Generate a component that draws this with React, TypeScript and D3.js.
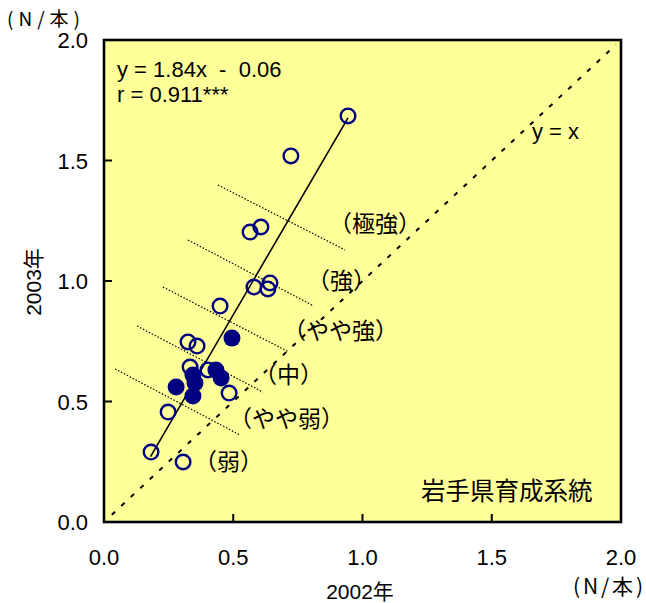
import React from 'react';
import * as d3 from 'd3';

// 2002 vs 2003 (N/本)
const openX = [0.944, 0.723, 0.565, 0.607, 0.449, 0.58, 0.642, 0.634, 0.325, 0.36, 0.333, 0.402, 0.484, 0.248, 0.182, 0.306];
const openY = [1.685, 1.519, 1.203, 1.224, 0.896, 0.975, 0.992, 0.967, 0.747, 0.73, 0.643, 0.631, 0.535, 0.456, 0.29, 0.249];
const filledX = [0.495, 0.433, 0.453, 0.344, 0.352, 0.344, 0.279];
const filledY = [0.763, 0.631, 0.598, 0.61, 0.577, 0.523, 0.56];

const ticks = [0, 0.5, 1.0, 1.5, 2.0];
const regSlope = 1.84;
const regIntercept = -0.06;
const regRange = [0.18, 0.944];

// dotted boundary lines between classes
const boundaryFrom = [[0.441, 1.398], [0.325, 1.17], [0.228, 0.975], [0.128, 0.813], [0.043, 0.635]];
const boundaryTo = [[0.932, 1.129], [0.812, 0.896], [0.716, 0.705], [0.615, 0.539], [0.526, 0.361]];

const classLabels = ['（極強）', '（強）', '（やや強）', '（中）', '（やや弱）', '（弱）'];
const classAt = [[0.87, 1.245], [0.785, 1.008], [0.692, 0.801], [0.58, 0.618], [0.484, 0.436], [0.348, 0.257]];

const W = 646, H = 603;
const latin = 'Liberation Sans, Arial, Noto Sans CJK JP, sans-serif';
const cjk = 'Noto Sans CJK JP, sans-serif';

export default function App() {
  const x = d3.scaleLinear().domain([0, 2]).range([104, 621]);
  const y = d3.scaleLinear().domain([0, 2]).range([522, 40]);
  const fmt = d3.format('.1f');

  const regLine = d3.line<number>()
    .x(d => x(d))
    .y(d => y(regSlope * d + regIntercept));
  const diag = d3.line<number>().x(d => x(d)).y(d => y(d));

  return (
    <svg width={W} height={H} style={{ position: 'absolute', left: 0, top: 0, background: '#fff' }}>
      <rect x={x(0)} y={y(2)} width={x(2) - x(0)} height={y(0) - y(2)} fill="#FFFF99" stroke="none" />

      {boundaryFrom.map((p, i) => (
        <line key={'b' + i} x1={x(p[0])} y1={y(p[1])} x2={x(boundaryTo[i][0])} y2={y(boundaryTo[i][1])}
          stroke="#000" strokeWidth={1.2} strokeDasharray="1.5,1.8" />
      ))}

      <path d={diag([0.03, 1.98]) || ''} stroke="#000" strokeWidth={2} strokeDasharray="4.5,8.5" fill="none" />
      <path d={regLine(regRange) || ''} stroke="#000" strokeWidth={1.6} fill="none" />

      {openX.map((v, i) => (
        <circle key={'o' + i} cx={x(v)} cy={y(openY[i])} r={7.3} fill="none" stroke="#000080" strokeWidth={2.4} />
      ))}
      {filledX.map((v, i) => (
        <circle key={'f' + i} cx={x(v)} cy={y(filledY[i])} r={8.5} fill="#000080" />
      ))}

      {/* frame */}
      <rect x={x(0)} y={y(2)} width={x(2) - x(0)} height={y(0) - y(2)} fill="none" stroke="#000" strokeWidth={2.6} />

      {ticks.map(t => (
        <g key={'t' + t}>
          <line x1={x(0)} x2={x(0) + 8} y1={y(t)} y2={y(t)} stroke="#000" strokeWidth={2} />
          <line x1={x(t)} x2={x(t)} y1={y(0)} y2={y(0) - 8} stroke="#000" strokeWidth={2} />
          <text x={88} y={y(t) + 8} textAnchor="end" fontFamily={latin} fontSize={22}>{fmt(t)}</text>
          <text x={x(t)} y={565} textAnchor="middle" fontFamily={latin} fontSize={22}>{fmt(t)}</text>
        </g>
      ))}

      <text x={117} y={77} fontFamily={latin} fontSize={22} style={{ whiteSpace: 'pre' }}>{'y = 1.84x  -  0.06'}</text>
      <text x={117} y={102} fontFamily={latin} fontSize={22} style={{ whiteSpace: 'pre' }}>{'r = 0.911***'}</text>
      <text x={532} y={139} fontFamily={latin} fontSize={22} style={{ whiteSpace: 'pre' }}>{'y = x'}</text>

      {classLabels.map((s, i) => (
        <text key={'c' + i} x={x(classAt[i][0])} y={y(classAt[i][1])} dominantBaseline="central"
          fontFamily={cjk} fontSize={23}>{s}</text>
      ))}

      <text x={421} y={489} dominantBaseline="central" fontFamily={cjk} fontSize={24.5}>岩手県育成系統</text>

      <text x={360} y={599} textAnchor="middle" fontFamily={latin} fontSize={21}>2002年</text>
      <text transform="translate(41,282) rotate(-90)" textAnchor="middle" fontFamily={latin} fontSize={21}>2003年</text>

      <text x={7} y={17} dominantBaseline="central" fontFamily={cjk} fontSize={19} textLength={73} lengthAdjust="spacing">(N/本)</text>
      <text x={573} y={585} dominantBaseline="central" fontFamily={cjk} fontSize={21} textLength={70} lengthAdjust="spacing">(N/本)</text>
    </svg>
  );
}
